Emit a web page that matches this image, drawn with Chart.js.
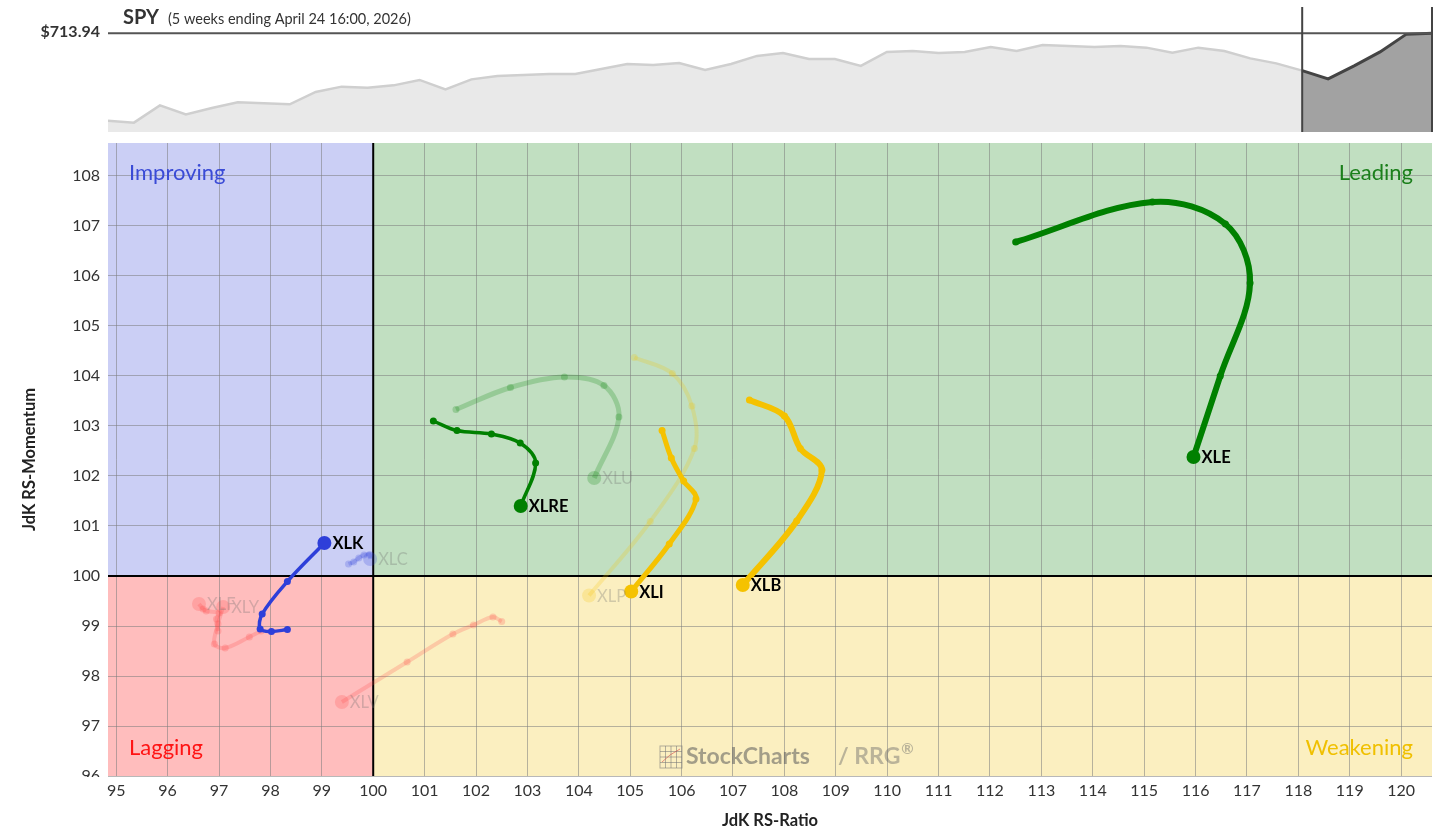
<!DOCTYPE html>
<html>
<head>
<meta charset="utf-8">
<script src="https://cdn.jsdelivr.net/npm/chart.js@4.4.1/dist/chart.umd.min.js"></script>
<style>
  html, body { margin: 0; padding: 0; background: #fff; overflow: hidden; }
  #top { position: absolute; left: 0; top: 0; width: 1439px; height: 135px; }
  #main { position: absolute; left: 0; top: 135px; width: 1439px; height: 697px; }
</style>
</head>
<body>
<div id="top"><canvas id="spyChart"></canvas></div>
<div id="main"><canvas id="rrgChart"></canvas></div>
<script>
// SPY weekly closes, last 52 weeks (last 6 = the tail window)
const spyPrices = [
  652.8, 651.4, 663.5, 657.2, 661.7, 665.6, 664.9, 664.2, 672.9, 676.6,
  675.9, 677.5, 681.3, 674.7, 681.7, 684.1, 684.8, 685.5, 685.5, 689.0,
  692.5, 691.8, 693.2, 688.3, 692.5, 698.1, 700.2, 696.0, 696.0, 691.1,
  700.9, 701.6, 700.2, 700.9, 704.4, 701.6, 705.8, 705.1, 704.4, 705.1,
  703.9, 700.4, 703.9, 701.6, 696.4, 692.9, 687.8, 682.0, 691.1, 700.9,
  713.2, 713.94,
];
const spyLast = 713.94;
const tailStart = 46;

const ratioTicks = [95, 96, 97, 98, 99, 100, 101, 102, 103, 104, 105, 106, 107, 108,
  109, 110, 111, 112, 113, 114, 115, 116, 117, 118, 119, 120];
const momentumTicks = [96, 97, 98, 99, 100, 101, 102, 103, 104, 105, 106, 107, 108];

// tails: [JdK RS-Ratio, JdK RS-Momentum], oldest -> newest
const XLE = [[112.50, 106.68], [115.16, 107.48], [116.58, 107.04], [117.06, 105.86], [116.48, 104.00], [115.96, 102.38]];
const XLRE = [[101.17, 103.10], [101.63, 102.91], [102.30, 102.84], [102.86, 102.66], [103.16, 102.26], [102.87, 101.40]];
const XLI = [[105.62, 102.91], [105.80, 102.36], [106.04, 101.90], [106.28, 101.54], [105.76, 100.64], [105.02, 99.69]];
const XLB = [[107.32, 103.52], [108.00, 103.20], [108.31, 102.55], [108.73, 102.12], [108.24, 101.10], [107.19, 99.82]];
const XLK = [[98.33, 98.93], [98.02, 98.89], [97.80, 98.94], [97.84, 99.24], [98.33, 99.89], [99.05, 100.66]];
const XLU = [[101.61, 103.33], [102.67, 103.77], [103.72, 103.98], [104.49, 103.81], [104.78, 103.18], [104.30, 101.96]];
const XLP = [[105.08, 104.37], [105.82, 104.05], [106.20, 103.40], [106.25, 102.55], [105.39, 101.09], [104.20, 99.61]];
const XLC = [[99.52, 100.24], [99.62, 100.28], [99.72, 100.36], [99.82, 100.42], [99.93, 100.43], [99.94, 100.34]];
const XLV = [[102.50, 99.09], [102.33, 99.18], [101.95, 99.02], [101.55, 98.84], [100.66, 98.28], [99.39, 97.48]];
const XLF = [[96.98, 98.90], [96.95, 99.14], [97.00, 99.26], [96.75, 99.30], [96.69, 99.34], [96.61, 99.44]];
const XLY = [[97.82, 98.90], [97.59, 98.78], [97.12, 98.56], [96.91, 98.64], [96.98, 99.04], [97.08, 99.38]];

const GREEN = "#008000";
const YELLOW = "#f5c200";
const BLUE = "#2e3fd9";
const RED = "#ff4646";

// first in list = drawn on top
const series = [
  { name: "XLE", data: XLE, color: GREEN, width: 6 },
  { name: "XLRE", data: XLRE, color: GREEN, width: 3.5 },
  { name: "XLI", data: XLI, color: YELLOW, width: 5 },
  { name: "XLB", data: XLB, color: YELLOW, width: 6 },
  { name: "XLK", data: XLK, color: BLUE, width: 3.5 },
  { name: "XLU", data: XLU, color: GREEN, width: 5, faded: true },
  { name: "XLP", data: XLP, color: YELLOW, width: 4, faded: true },
  { name: "XLC", data: XLC, color: BLUE, width: 4, faded: true },
  { name: "XLV", data: XLV, color: RED, width: 4, faded: true },
  { name: "XLF", data: XLF, color: RED, width: 4, faded: true },
  { name: "XLY", data: XLY, color: RED, width: 4, faded: true },
];

Chart.defaults.font.family = "Lato";

const spyDecor = {
  id: "spyDecor",
  afterDatasetsDraw(chart) {
    const { ctx, chartArea: a, scales: { x, y } } = chart;
    const ly = y.getPixelForValue(spyLast);
    const vx = x.getPixelForValue(tailStart);
    ctx.save();
    ctx.strokeStyle = "#555";
    ctx.lineWidth = 2;
    ctx.beginPath();
    ctx.moveTo(a.left, ly);
    ctx.lineTo(a.right, ly);
    ctx.stroke();
    ctx.strokeStyle = "#444";
    ctx.beginPath();
    ctx.moveTo(vx, a.top);
    ctx.lineTo(vx, a.bottom);
    ctx.moveTo(a.right, a.top);
    ctx.lineTo(a.right, a.bottom);
    ctx.stroke();

    ctx.fillStyle = "#333";
    ctx.textBaseline = "middle";
    ctx.textAlign = "right";
    ctx.font = "bold 16px Lato";
    ctx.fillText("$" + spyLast.toFixed(2), a.left - 8, ly - 1);
    ctx.textAlign = "left";
    ctx.font = "bold 20px Lato";
    ctx.fillText("SPY", a.left + 15, 18);
    ctx.font = "14.5px Lato";
    ctx.fillText("(5 weeks ending April 24 16:00, 2026)", a.left + 60, 19);
    ctx.restore();
  },
};

new Chart(document.getElementById("spyChart"), {
  type: "line",
  data: {
    datasets: [
      {
        data: spyPrices.slice(0, tailStart + 1).map((v, i) => ({ x: i, y: v })),
        borderColor: "#cfcfcf",
        backgroundColor: "#e9e9e9",
        fill: "start",
        borderWidth: 2.5,
        pointRadius: 0,
      },
      {
        data: spyPrices.slice(tailStart).map((v, i) => ({ x: i + tailStart, y: v })),
        borderColor: "#444",
        backgroundColor: "#a2a2a2",
        fill: "start",
        borderWidth: 3,
        pointRadius: 0,
      },
    ],
  },
  options: {
    animation: false,
    responsive: true,
    maintainAspectRatio: false,
    layout: { padding: { left: 108, right: 7, top: 7, bottom: 3 } },
    plugins: { legend: { display: false }, tooltip: { enabled: false } },
    scales: {
      x: { type: "linear", display: false, min: 0, max: spyPrices.length - 1 },
      y: { display: false, min: 644.85, max: 732.35 },
    },
  },
  plugins: [spyDecor],
});

const quadrants = {
  id: "quadrants",
  beforeDraw(chart) {
    const { ctx, chartArea: a, scales: { x, y } } = chart;
    const cx = x.getPixelForValue(100);
    const cy = y.getPixelForValue(100);
    ctx.save();
    ctx.fillStyle = "#cbcff5";
    ctx.fillRect(a.left, a.top, cx - a.left, cy - a.top);
    ctx.fillStyle = "#c1dfc1";
    ctx.fillRect(cx, a.top, a.right - cx, cy - a.top);
    ctx.fillStyle = "#ffbdbd";
    ctx.fillRect(a.left, cy, cx - a.left, a.bottom - cy);
    ctx.fillStyle = "#fbefc0";
    ctx.fillRect(cx, cy, a.right - cx, a.bottom - cy);
    ctx.restore();
  },
  beforeDatasetsDraw(chart) {
    const { ctx, chartArea: a, scales: { x, y } } = chart;
    const cx = x.getPixelForValue(100);
    const cy = y.getPixelForValue(100);
    ctx.save();
    ctx.strokeStyle = "#000";
    ctx.lineWidth = 2;
    ctx.beginPath();
    ctx.moveTo(cx, a.top);
    ctx.lineTo(cx, a.bottom);
    ctx.moveTo(a.left, cy);
    ctx.lineTo(a.right, cy);
    ctx.stroke();

    ctx.font = "22px Lato";
    ctx.textBaseline = "middle";
    ctx.textAlign = "left";
    ctx.fillStyle = "#3a4bd6";
    ctx.fillText("Improving", a.left + 21, a.top + 30);
    ctx.fillStyle = "#ff1414";
    ctx.fillText("Lagging", a.left + 21, a.bottom - 28);
    ctx.textAlign = "right";
    ctx.fillStyle = "#1b7f1b";
    ctx.fillText("Leading", a.right - 19, a.top + 30);
    ctx.fillStyle = "#f0c000";
    ctx.fillText("Weakening", a.right - 19, a.bottom - 28);

    // watermark
    const mx = (a.left + a.right) / 2;
    const my = a.bottom - 19;
    ctx.globalAlpha = 0.55;
    ctx.strokeStyle = "#777";
    ctx.lineWidth = 1;
    ctx.strokeRect(mx - 110, my - 11, 22, 22);
    ctx.beginPath();
    for (let k = 1; k < 4; k++) {
      ctx.moveTo(mx - 110 + k * 5.5, my - 11);
      ctx.lineTo(mx - 110 + k * 5.5, my + 11);
      ctx.moveTo(mx - 110, my - 11 + k * 5.5);
      ctx.lineTo(mx - 88, my - 11 + k * 5.5);
    }
    ctx.stroke();
    ctx.strokeStyle = "#d04040";
    ctx.beginPath();
    ctx.moveTo(mx - 108, my + 5);
    ctx.lineTo(mx - 100, my - 2);
    ctx.lineTo(mx - 90, my - 8);
    ctx.stroke();
    ctx.textAlign = "left";
    ctx.fillStyle = "#5a5a5a";
    ctx.font = "bold 23px Lato";
    ctx.fillText("StockCharts", mx - 84, my);
    ctx.globalAlpha = 0.45;
    ctx.fillStyle = "#6a6a6a";
    ctx.fillText("/ RRG", mx + 68, my);
    const w = ctx.measureText("/ RRG").width;
    ctx.font = "bold 15px Lato";
    ctx.fillText("®", mx + 69 + w, my - 8);
    ctx.restore();
  },
  afterDatasetsDraw(chart) {
    const { ctx } = chart;
    ctx.save();
    ctx.textBaseline = "middle";
    ctx.textAlign = "left";
    series.forEach((s, i) => {
      const pts = chart.getDatasetMeta(i).data;
      const end = pts[pts.length - 1];
      ctx.font = s.faded ? "16.5px Lato" : "bold 16.5px Lato";
      ctx.fillStyle = s.faded ? "rgba(110,110,110,0.3)" : "#000";
      ctx.fillText(s.name, end.x + 8, end.y + 1);
    });
    ctx.restore();
  },
  afterDraw(chart) {
    // the lowest momentum label sits half under the axis strip
    const { ctx, chartArea: a } = chart;
    ctx.save();
    ctx.fillStyle = "#fff";
    ctx.fillRect(40, a.bottom + 1, a.left - 44, 12);
    ctx.restore();
  },
};

new Chart(document.getElementById("rrgChart"), {
  type: "scatter",
  data: {
    datasets: series.map((s) => {
      const col = s.faded ? s.color + "38" : s.color;
      const last = s.data.length - 1;
      return {
        label: s.name,
        data: s.data.map(([x, y]) => ({ x, y })),
        showLine: true,
        borderColor: col,
        backgroundColor: col,
        borderWidth: s.width,
        tension: 0.35,
        pointRadius: s.data.map((_, i) => (i === last ? 7 : 3.5)),
        pointBorderWidth: 0,
        pointHoverRadius: 0,
      };
    }),
  },
  options: {
    animation: false,
    responsive: true,
    maintainAspectRatio: false,
    layout: { padding: { top: 8, right: 7, left: 0, bottom: 0 } },
    plugins: { legend: { display: false }, tooltip: { enabled: false } },
    scales: {
      x: {
        type: "linear",
        min: 94.84,
        max: 120.6,
        afterBuildTicks: (s) => { s.ticks = ratioTicks.map((v) => ({ value: v })); },
        afterFit: (s) => { s.height = 56; s.paddingLeft = 0; s.paddingRight = 0; },
        border: { display: false },
        grid: { color: "rgba(125,125,125,0.55)", drawTicks: false },
        ticks: { color: "#333", font: { size: 16 }, padding: 5, autoSkip: false, maxRotation: 0 },
        title: {
          display: true,
          text: "JdK RS-Ratio",
          color: "#222",
          font: { size: 16.5, weight: "bold" },
          padding: { top: 0, bottom: 1 },
        },
      },
      y: {
        min: 96,
        max: 108.66,
        afterBuildTicks: (s) => { s.ticks = momentumTicks.map((v) => ({ value: v })); },
        afterFit: (s) => { s.width = 108; s.paddingTop = 0; s.paddingBottom = 0; },
        border: { display: false },
        grid: { color: "rgba(125,125,125,0.55)", drawTicks: false },
        ticks: { color: "#333", font: { size: 16 }, padding: 8, autoSkip: false },
        title: {
          display: true,
          text: "JdK RS-Momentum",
          color: "#222",
          font: { size: 16.5, weight: "bold" },
          padding: { top: 20, bottom: 0 },
        },
      },
    },
  },
  plugins: [quadrants],
});
</script>
</body>
</html>
